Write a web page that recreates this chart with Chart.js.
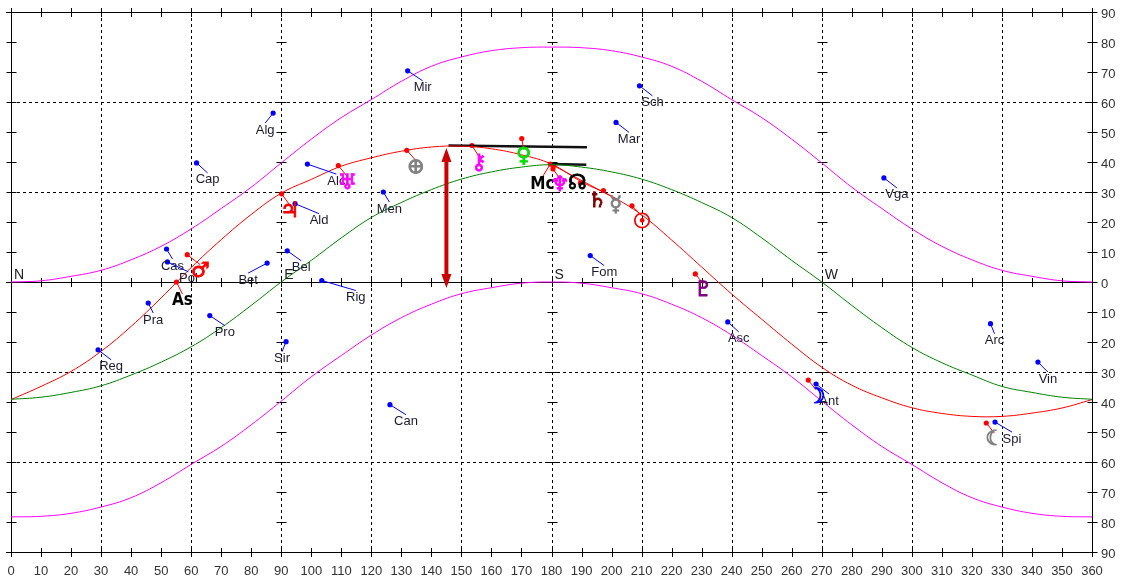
<!DOCTYPE html>
<html>
<head>
<meta charset="utf-8">
<script src="https://cdn.jsdelivr.net/npm/chart.js@4.4.1/dist/chart.umd.min.js"></script>
<style>
  html, body { margin: 0; padding: 0; background: #fff; }
  #wrap { width: 1122px; height: 582px; }
</style>
</head>
<body>
<div id="wrap"><canvas id="sky" width="1122" height="582"></canvas></div>
<script>
// azimuth samples for the curves (degrees)
const azimuths = [0,10,20,30,40,50,60,70,80,90,100,110,120,130,140,150,160,170,180,
  190,200,210,220,230,240,250,260,270,280,290,300,310,320,330,340,350,360];

// magenta circles, green equator, red ecliptic (altitude in degrees)
const upperCircle = [0,0.4,1.9,3.9,7.4,11.9,17.7,24.5,31.6,39.7,47.6,54.8,60.8,66.9,71.9,75,77.1,78.1,78.3,
  78.1,77.1,75,71.9,66.9,60.8,54.8,47.6,39.7,31.6,24.5,17.7,11.9,7.4,3.9,1.9,0.4,0];
const lowerCircle = [-78.3,-78.1,-77.1,-75,-71.9,-66.9,-60.8,-54.8,-47.6,-39.7,-31.6,-24.5,-17.7,-11.9,-7.4,-3.9,-1.9,-0.4,0,
  -0.4,-1.9,-3.9,-7.4,-11.9,-17.7,-24.5,-31.6,-39.7,-47.6,-54.8,-60.8,-66.9,-71.9,-75,-77.1,-78.1,-78.3];
const equatorAlt = [-39.1,-38.4,-36.8,-34.6,-31,-26.7,-21.6,-15.2,-7.8,0,7.2,14.7,21.5,26.5,30.8,34.3,36.7,38.3,39.1,
  38.3,36.7,34.3,30.8,26.5,21.5,14.7,7.2,0,-7.8,-15.2,-21.8,-26.9,-31,-34.8,-36.8,-38.4,-39.1];
const eclipticAlt = [-39.2,-34.8,-29.8,-23.1,-14.8,-5.3,4.8,14.1,22.5,29.6,34.2,38.6,41.4,43.6,45,45.3,44.4,42.4,39.3,
  33.4,28.6,22.4,14,5,-4,-12.4,-20.7,-28.4,-34.4,-38.6,-41.9,-43.8,-44.8,-44.8,-43.7,-42,-39.2];

// fixed stars
const starNames = ["Alg","Cap","Cas","Pol","Bet","Bel","Ald","Alc","Rig","Mir","Men","Sch","Mar","Fom","Vga",
  "Pra","Reg","Pro","Sir","Can","Asc","Ant","Arc","Vin","Spi"];
const starAz = [87.3,61.8,51.8,52.1,85.3,92,94.6,98.7,103.5,132.1,124,209.3,201.5,192.9,290.7,
  45.7,29,66.2,91.6,126.2,238.7,268.1,326.2,342,327.7];
const starAlt = [56.3,39.7,11,6.7,6.3,10.4,26.1,39.3,0.5,70.4,30,65.4,53.2,8.8,34.7,
  -7,-22.6,-11.2,-19.9,-40.9,-13.3,-34,-13.9,-26.7,-46.7];

// planets and points
const planetGlyphs = ["\u2642","As","\u2643","\u2645","\u2295","\u26B7","\u2640","Mc","\u2646","\u263F","\u260A","\u2644","\u2609","\u2647","\u263D","\u263E"];
const planetAz = [58.7,55.1,90.1,109,131.8,153.5,170.1,179.6,180.5,180.7,189.6,197.3,206.8,227.9,265.5,324.8];
const planetAlt = [9.1,0,29.4,38.8,43.9,45.5,47.8,39.3,37.7,38.8,33,30.5,25.4,2.7,-32.7,-47];

// compass points on the horizon
const compassNames = ["N","E","S","W"];
const compassAz = [0,90,180,270];

// black culmination bars and the altitude arrow
const longBarAz = [145.7,191.8];
const longBarAlt = [45.5,44.9];
const shortBarAz = [180.1,191.6];
const shortBarAlt = [39.3,39.1];
const arrowAz = 145;
const arrowAlt = [44.7,-2];

// label placement (pixels, layout only)
const starLabelDx = [-8,11,6,21,-19,14,24,29,34,15,6,13,13,14,13,5,13,15,-4,16,11,13,4,10,17];
const glyphDx = [13,6,8,9,9,7,2,-8,7,62,-3,-6,10,8,8,8];
const glyphDy = [17,19,18,18,17,18,18,20,17,40,1,11,17,17,17,17];
const glyphColors = ["#ff0000","#000000","#ee0000","#ff00ff","#808080","#ff00ff","#00dd00","#000000",
  "#ff00ff","#808080","#000000","#800000","#ff0000","#800080","#0000ff","#808080"];
const glyphLeader = [true,true,true,true,true,true,true,true,true,true,false,false,true,true,true,true];

const pts = (xs, ys) => xs.map((x, i) => ({ x: x, y: ys[i] }));

function curve(data, color) {
  return {
    data: data, showLine: true, borderColor: color, borderWidth: 1,
    pointRadius: 0, tension: 0.4, fill: false
  };
}

const gridPlugin = {
  id: "grid",
  beforeDatasetsDraw(chart) {
    const { ctx, chartArea: a } = chart;
    const xs = chart.scales.x, ys = chart.scales.y;
    const px = v => Math.round(xs.getPixelForValue(v)) + 0.5;
    const py = v => Math.round(ys.getPixelForValue(v)) + 0.5;
    ctx.save();
    ctx.strokeStyle = "#000";
    ctx.lineWidth = 1;
    ctx.setLineDash([3, 3]);
    ctx.beginPath();
    for (let az = 30; az < 360; az += 30) {
      ctx.moveTo(px(az), a.top); ctx.lineTo(px(az), a.bottom);
    }
    [60, 30, -30, -60].forEach(alt => { ctx.moveTo(a.left, py(alt)); ctx.lineTo(a.right, py(alt)); });
    ctx.stroke();
    ctx.setLineDash([]);
    ctx.beginPath();
    [0, 360].forEach(az => { ctx.moveTo(px(az), a.top - 4); ctx.lineTo(px(az), a.bottom + 4); });
    [90, 0, -90].forEach(alt => { ctx.moveTo(a.left - 5, py(alt)); ctx.lineTo(a.right + 5, py(alt)); });
    // tick marks on the main verticals
    [0, 90, 180, 270, 360].forEach(az => {
      for (let alt = -90; alt <= 90; alt += 10) {
        ctx.moveTo(px(az) - 5, py(alt)); ctx.lineTo(px(az) + 5, py(alt));
      }
    });
    // tick marks on top, horizon and bottom
    [90, 0, -90].forEach(alt => {
      for (let az = 0; az <= 360; az += 10) {
        ctx.moveTo(px(az), py(alt) - 4.5); ctx.lineTo(px(az), py(alt) + 4.5);
      }
    });
    ctx.stroke();
    ctx.restore();
  }
};

const labelPlugin = {
  id: "labels",
  afterDatasetsDraw(chart) {
    const { ctx } = chart;
    const xs = chart.scales.x, ys = chart.scales.y;
    ctx.save();

    // star leaders and names
    ctx.font = "13px 'Liberation Sans', Arial, sans-serif";
    ctx.textAlign = "center";
    ctx.textBaseline = "middle";
    starNames.forEach((name, i) => {
      const x = xs.getPixelForValue(starAz[i]), y = ys.getPixelForValue(starAlt[i]);
      const lx = x + starLabelDx[i], ly = y + 17;
      ctx.strokeStyle = "#0000ff";
      ctx.lineWidth = 1;
      ctx.beginPath(); ctx.moveTo(x, y); ctx.lineTo(lx, ly - 7); ctx.stroke();
      ctx.fillStyle = "#1a1a2e";
      ctx.fillText(name, lx, ly);
    });

    // planet leaders and glyphs
    planetGlyphs.forEach((g, i) => {
      const x = xs.getPixelForValue(planetAz[i]), y = ys.getPixelForValue(planetAlt[i]);
      const gx = x + glyphDx[i], gy = y + glyphDy[i];
      if (glyphLeader[i]) {
        ctx.strokeStyle = "#ff0000";
        ctx.lineWidth = 1;
        ctx.beginPath(); ctx.moveTo(x, y); ctx.lineTo(gx, gy - 7); ctx.stroke();
      }
      ctx.fillStyle = glyphColors[i];
      ctx.strokeStyle = glyphColors[i];
      if (g === "As" || g === "Mc") {
        ctx.font = "bold 17px 'DejaVu Sans Condensed', 'DejaVu Sans', sans-serif";
        ctx.fillText(g, gx, gy);
      } else {
        ctx.font = "21px 'DejaVu Sans', sans-serif";
        ctx.lineWidth = 0.9;
        ctx.fillText(g, gx, gy);
        ctx.strokeText(g, gx, gy);
      }
    });

    // compass points
    ctx.font = "14px 'Liberation Sans', Arial, sans-serif";
    ctx.textAlign = "left";
    ctx.textBaseline = "alphabetic";
    ctx.fillStyle = "#222";
    compassNames.forEach((n, i) => {
      ctx.fillText(n, xs.getPixelForValue(compassAz[i]) + 3, ys.getPixelForValue(0) - 3);
    });

    // altitude arrow
    const ax = xs.getPixelForValue(arrowAz);
    const yTop = ys.getPixelForValue(arrowAlt[0]), yBot = ys.getPixelForValue(arrowAlt[1]);
    const head = 14, half = 5;
    ctx.strokeStyle = "#cc0000";
    ctx.fillStyle = "#cc0000";
    ctx.lineWidth = 4;
    ctx.beginPath(); ctx.moveTo(ax, yTop + head - 2); ctx.lineTo(ax, yBot - head + 2); ctx.stroke();
    ctx.beginPath();
    ctx.moveTo(ax, yTop); ctx.lineTo(ax - half, yTop + head); ctx.lineTo(ax + half, yTop + head); ctx.closePath();
    ctx.moveTo(ax, yBot); ctx.lineTo(ax - half, yBot - head); ctx.lineTo(ax + half, yBot - head); ctx.closePath();
    ctx.fill();

    ctx.restore();
  }
};

new Chart(document.getElementById("sky"), {
  type: "scatter",
  data: {
    datasets: [
      curve(pts(azimuths, upperCircle), "#ff00ff"),
      curve(pts(azimuths, lowerCircle), "#ff00ff"),
      curve(pts(azimuths, equatorAlt), "#008000"),
      curve(pts(azimuths, eclipticAlt), "#ff0000"),
      { data: pts(longBarAz, longBarAlt), showLine: true, borderColor: "#111", borderWidth: 2.5, pointRadius: 0 },
      { data: pts(shortBarAz, shortBarAlt), showLine: true, borderColor: "#111", borderWidth: 2.5, pointRadius: 0 },
      { data: pts(starAz, starAlt), pointRadius: 2.6, pointBackgroundColor: "#0000ff", pointBorderColor: "#0000ff", pointBorderWidth: 0 },
      { data: pts(planetAz, planetAlt), pointRadius: 2.6, pointBackgroundColor: "#ff0000", pointBorderColor: "#ff0000", pointBorderWidth: 0 }
    ]
  },
  options: {
    responsive: false,
    animation: false,
    devicePixelRatio: 1,
    layout: { autoPadding: false, padding: { left: 11, top: 12, right: 0, bottom: 0 } },
    plugins: { legend: { display: false }, tooltip: { enabled: false } },
    scales: {
      x: {
        type: "linear", position: "bottom", min: 0, max: 360,
        afterFit: s => { s.height = 30; s.paddingLeft = 0; s.paddingRight = 0; },
        grid: { display: false, drawTicks: false },
        border: { display: false },
        ticks: {
          stepSize: 10, autoSkip: false, maxRotation: 0, padding: 12,
          color: "#333", font: { family: "'Liberation Sans', Arial, sans-serif", size: 13 }
        }
      },
      y: {
        type: "linear", position: "right", min: -90, max: 90,
        afterFit: s => { s.width = 30; s.paddingTop = 0; s.paddingBottom = 0; },
        grid: { display: false, drawTicks: false },
        border: { display: false },
        ticks: {
          stepSize: 10, padding: 9, labelOffset: 2,
          color: "#333", font: { family: "'Liberation Sans', Arial, sans-serif", size: 13 },
          callback: v => Math.abs(v)
        }
      }
    }
  },
  plugins: [gridPlugin, labelPlugin]
});
</script>
</body>
</html>
